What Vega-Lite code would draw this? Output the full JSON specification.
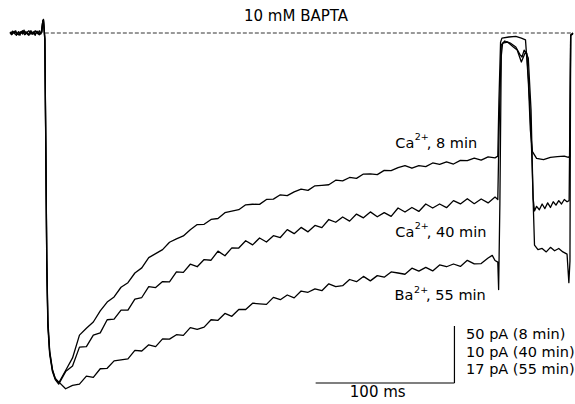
{
  "$schema": "https://vega.github.io/schema/vega-lite/v6.json",
  "width": 575,
  "height": 404,
  "autosize": {"type": "fit", "contains": "padding"},
  "padding": 0,
  "background": "white",
  "config": {"view": {"stroke": null}},
  "datasets": {
    "traces": [
      {"s":"8","t":-25.2,"i":0.5},{"s":"8","t":-24,"i":-1.5},{"s":"8","t":-23,"i":1.5},{"s":"8","t":-22,"i":-0.5},{"s":"8","t":-21,"i":2},{"s":"8","t":-20,"i":-1},{"s":"8","t":-19,"i":1},{"s":"8","t":-18,"i":-2},{"s":"8","t":-17,"i":1.5},{"s":"8","t":-16,"i":0},{"s":"8","t":-15,"i":2.5},{"s":"8","t":-14,"i":-1},{"s":"8","t":-13,"i":1},{"s":"8","t":-12,"i":-1.5},{"s":"8","t":-11,"i":0.5},{"s":"8","t":-10,"i":2},{"s":"8","t":-9,"i":-1},{"s":"8","t":-8,"i":1},{"s":"8","t":-7,"i":-2},{"s":"8","t":-6,"i":1.5},{"s":"8","t":-5,"i":-0.5},{"s":"8","t":-4,"i":2},{"s":"8","t":-3,"i":-1},{"s":"8","t":-2,"i":1},{"s":"8","t":-1.5,"i":11},{"s":"8","t":-1,"i":12},{"s":"8","t":-0.5,"i":4},{"s":"8","t":0,"i":-5},{"s":"8","t":0.7,"i":-100},{"s":"8","t":1.4,"i":-200},{"s":"8","t":2.2,"i":-255},{"s":"8","t":3.5,"i":-280},{"s":"8","t":5.5,"i":-296},{"s":"8","t":7.5,"i":-303},{"s":"8","t":10,"i":-307},
      {"s":"8","t":15,"i":-296},{"s":"8","t":20,"i":-285},{"s":"8","t":25,"i":-265},{"s":"8","t":30,"i":-259},{"s":"8","t":35,"i":-253.5},{"s":"8","t":40,"i":-243.7},{"s":"8","t":45,"i":-236},{"s":"8","t":50,"i":-231.5},{"s":"8","t":55,"i":-223},{"s":"8","t":60,"i":-219},{"s":"8","t":65,"i":-210.5},{"s":"8","t":70,"i":-206},{"s":"8","t":75,"i":-197},{"s":"8","t":80,"i":-193.5},{"s":"8","t":85,"i":-190},{"s":"8","t":90,"i":-183.5},{"s":"8","t":95,"i":-180.5},{"s":"8","t":100,"i":-178},{"s":"8","t":105,"i":-172.5},{"s":"8","t":110,"i":-168},{"s":"8","t":115,"i":-167.8},{"s":"8","t":120,"i":-163.5},{"s":"8","t":125,"i":-162.7},{"s":"8","t":130,"i":-157.6},{"s":"8","t":135,"i":-156.2},{"s":"8","t":140,"i":-155},{"s":"8","t":145,"i":-150.7},{"s":"8","t":150,"i":-150.2},{"s":"8","t":155,"i":-150.3},{"s":"8","t":160,"i":-146},{"s":"8","t":165,"i":-145.7},{"s":"8","t":170,"i":-141.9},{"s":"8","t":175,"i":-142.6},{"s":"8","t":180,"i":-139.3},{"s":"8","t":185,"i":-137},{"s":"8","t":190,"i":-138},{"s":"8","t":195,"i":-134},{"s":"8","t":200,"i":-133.6},{"s":"8","t":205,"i":-133.1},{"s":"8","t":210,"i":-129.1},{"s":"8","t":215,"i":-129.7},{"s":"8","t":220,"i":-126.7},{"s":"8","t":225,"i":-127.5},{"s":"8","t":230,"i":-123.7},{"s":"8","t":235,"i":-123.5},{"s":"8","t":240,"i":-124.2},{"s":"8","t":245,"i":-120.5},{"s":"8","t":250,"i":-120.7},{"s":"8","t":255,"i":-118},{"s":"8","t":260,"i":-116.3},{"s":"8","t":265,"i":-118.6},{"s":"8","t":270,"i":-116.4},{"s":"8","t":275,"i":-117.2},{"s":"8","t":280,"i":-114},{"s":"8","t":285,"i":-115.3},{"s":"8","t":290,"i":-113.1},{"s":"8","t":295,"i":-114.9},{"s":"8","t":300,"i":-111.7},{"s":"8","t":305,"i":-112},{"s":"8","t":310,"i":-109.7},{"s":"8","t":315,"i":-111.5},{"s":"8","t":320,"i":-108.7},{"s":"8","t":325,"i":-109.5},
      {"s":"8","t":327,"i":-108},{"s":"8","t":327.8,"i":-60},{"s":"8","t":329,"i":-8},{"s":"8","t":330,"i":-4.5},{"s":"8","t":335,"i":-3.5},{"s":"8","t":340,"i":-3},{"s":"8","t":344,"i":-4.5},{"s":"8","t":347,"i":-6},{"s":"8","t":349,"i":-41},{"s":"8","t":350.5,"i":-85},{"s":"8","t":352,"i":-104},{"s":"8","t":355,"i":-110},{"s":"8","t":360,"i":-111},{"s":"8","t":365,"i":-109},{"s":"8","t":370,"i":-108.5},{"s":"8","t":375,"i":-108},{"s":"8","t":378,"i":-109},{"s":"8","t":379,"i":-108},{"s":"8","t":379.6,"i":-2},{"s":"8","t":381.29,"i":-1},

      {"s":"40","t":-25,"i":-1},{"s":"40","t":-23.5,"i":1.5},{"s":"40","t":-22,"i":0},{"s":"40","t":-20.5,"i":-2},{"s":"40","t":-19,"i":1},{"s":"40","t":-17.5,"i":-0.5},{"s":"40","t":-16,"i":2},{"s":"40","t":-14.5,"i":-1.5},{"s":"40","t":-13,"i":0.5},{"s":"40","t":-11.5,"i":2},{"s":"40","t":-10,"i":-1},{"s":"40","t":-8.5,"i":1},{"s":"40","t":-7,"i":-1.5},{"s":"40","t":-5.5,"i":1.5},{"s":"40","t":-4,"i":-1},{"s":"40","t":-2.5,"i":1},{"s":"40","t":-1.5,"i":10},{"s":"40","t":-1,"i":11},{"s":"40","t":-0.5,"i":3},{"s":"40","t":0,"i":-6},{"s":"40","t":0.7,"i":-105},{"s":"40","t":1.4,"i":-205},{"s":"40","t":2.2,"i":-258},{"s":"40","t":3.5,"i":-282},{"s":"40","t":5.5,"i":-297},{"s":"40","t":7.5,"i":-304},{"s":"40","t":10,"i":-308},
      {"s":"40","t":15,"i":-297},{"s":"40","t":20,"i":-292},{"s":"40","t":25,"i":-275.5},{"s":"40","t":30,"i":-275},{"s":"40","t":35,"i":-265},{"s":"40","t":40,"i":-263},{"s":"40","t":45,"i":-251.5},{"s":"40","t":50,"i":-251},{"s":"40","t":55,"i":-243},{"s":"40","t":60,"i":-243},{"s":"40","t":65,"i":-233.5},{"s":"40","t":70,"i":-232},{"s":"40","t":75,"i":-222.4},{"s":"40","t":80,"i":-223.3},{"s":"40","t":85,"i":-218},{"s":"40","t":90,"i":-218.2},{"s":"40","t":95,"i":-209.5},{"s":"40","t":100,"i":-209.9},{"s":"40","t":105,"i":-202.8},{"s":"40","t":110,"i":-205},{"s":"40","t":115,"i":-198.7},{"s":"40","t":120,"i":-199.3},{"s":"40","t":125,"i":-191.3},{"s":"40","t":130,"i":-195.4},{"s":"40","t":135,"i":-188.5},{"s":"40","t":140,"i":-188.6},{"s":"40","t":145,"i":-182.2},{"s":"40","t":150,"i":-185.8},{"s":"40","t":155,"i":-179.8},{"s":"40","t":160,"i":-183.3},{"s":"40","t":165,"i":-177.8},{"s":"40","t":170,"i":-179.4},{"s":"40","t":175,"i":-172.5},{"s":"40","t":180,"i":-176},{"s":"40","t":185,"i":-170.5},{"s":"40","t":190,"i":-174.4},{"s":"40","t":195,"i":-168.8},{"s":"40","t":200,"i":-170.7},{"s":"40","t":205,"i":-163.6},{"s":"40","t":210,"i":-166},{"s":"40","t":215,"i":-161.4},{"s":"40","t":220,"i":-165},{"s":"40","t":225,"i":-158.8},{"s":"40","t":230,"i":-162.1},{"s":"40","t":235,"i":-156.9},{"s":"40","t":240,"i":-161.2},{"s":"40","t":245,"i":-157.5},{"s":"40","t":250,"i":-160.8},{"s":"40","t":255,"i":-153.5},{"s":"40","t":260,"i":-157},{"s":"40","t":265,"i":-153},{"s":"40","t":270,"i":-156.5},{"s":"40","t":275,"i":-150},{"s":"40","t":280,"i":-153.5},{"s":"40","t":285,"i":-150},{"s":"40","t":290,"i":-153.2},{"s":"40","t":295,"i":-147},{"s":"40","t":300,"i":-149.9},{"s":"40","t":305,"i":-145.3},{"s":"40","t":310,"i":-149.7},{"s":"40","t":315,"i":-145.6},{"s":"40","t":320,"i":-149},{"s":"40","t":325,"i":-143.9},
      {"s":"40","t":327,"i":-146},{"s":"40","t":328,"i":-80},{"s":"40","t":329.5,"i":-10.5},{"s":"40","t":332,"i":-7},{"s":"40","t":336,"i":-8.8},{"s":"40","t":340,"i":-12.3},{"s":"40","t":343,"i":-19},{"s":"40","t":344.5,"i":-21},{"s":"40","t":346,"i":-15},{"s":"40","t":348,"i":-18},{"s":"40","t":350,"i":-60},{"s":"40","t":351.5,"i":-105},{"s":"40","t":352.5,"i":-145},{"s":"40","t":353.5,"i":-156},{"s":"40","t":355,"i":-152},{"s":"40","t":357,"i":-155},{"s":"40","t":359,"i":-150},{"s":"40","t":361,"i":-154},{"s":"40","t":363,"i":-149},{"s":"40","t":365,"i":-153},{"s":"40","t":367,"i":-148},{"s":"40","t":369,"i":-151},{"s":"40","t":371,"i":-147},{"s":"40","t":373,"i":-150},{"s":"40","t":375,"i":-146},{"s":"40","t":377,"i":-148},{"s":"40","t":378.5,"i":-147},{"s":"40","t":379.6,"i":-2},{"s":"40","t":381.29,"i":0},

      {"s":"55","t":-25,"i":1},{"s":"55","t":-23.5,"i":-1},{"s":"55","t":-22,"i":1.5},{"s":"55","t":-20.5,"i":0},{"s":"55","t":-19,"i":-1.5},{"s":"55","t":-17.5,"i":1},{"s":"55","t":-16,"i":-1},{"s":"55","t":-14.5,"i":1.5},{"s":"55","t":-13,"i":-0.5},{"s":"55","t":-11.5,"i":-2},{"s":"55","t":-10,"i":1},{"s":"55","t":-8.5,"i":-1},{"s":"55","t":-7,"i":2},{"s":"55","t":-5.5,"i":0},{"s":"55","t":-4,"i":-1.5},{"s":"55","t":-2.5,"i":1.5},{"s":"55","t":-1.5,"i":10},{"s":"55","t":-1,"i":11.5},{"s":"55","t":-0.5,"i":3},{"s":"55","t":0,"i":-6},{"s":"55","t":0.7,"i":-98},{"s":"55","t":1.4,"i":-198},{"s":"55","t":2.2,"i":-252},{"s":"55","t":3.5,"i":-279},{"s":"55","t":5.5,"i":-295},{"s":"55","t":7.5,"i":-303},{"s":"55","t":10,"i":-306},
      {"s":"55","t":15,"i":-312},{"s":"55","t":20,"i":-309},{"s":"55","t":25,"i":-308},{"s":"55","t":30,"i":-301},{"s":"55","t":35,"i":-302},{"s":"55","t":40,"i":-294.5},{"s":"55","t":45,"i":-294.1},{"s":"55","t":50,"i":-287.6},{"s":"55","t":55,"i":-286.7},{"s":"55","t":60,"i":-285.8},{"s":"55","t":65,"i":-278.3},{"s":"55","t":70,"i":-278.9},{"s":"55","t":75,"i":-273.5},{"s":"55","t":80,"i":-275.1},{"s":"55","t":85,"i":-268.3},{"s":"55","t":90,"i":-268.5},{"s":"55","t":95,"i":-264.6},{"s":"55","t":100,"i":-265.2},{"s":"55","t":105,"i":-258.4},{"s":"55","t":110,"i":-260},{"s":"55","t":115,"i":-258},{"s":"55","t":120,"i":-251.5},{"s":"55","t":125,"i":-252},{"s":"55","t":130,"i":-246},{"s":"55","t":135,"i":-248.5},{"s":"55","t":140,"i":-242.5},{"s":"55","t":145,"i":-242.5},{"s":"55","t":150,"i":-237},{"s":"55","t":155,"i":-237.5},{"s":"55","t":160,"i":-238},{"s":"55","t":165,"i":-231.9},{"s":"55","t":170,"i":-233.9},{"s":"55","t":175,"i":-229.8},{"s":"55","t":180,"i":-232.3},{"s":"55","t":185,"i":-226.3},{"s":"55","t":190,"i":-227.4},{"s":"55","t":195,"i":-224.4},{"s":"55","t":200,"i":-226},{"s":"55","t":205,"i":-220},{"s":"55","t":210,"i":-222.5},{"s":"55","t":215,"i":-221.6},{"s":"55","t":220,"i":-216.2},{"s":"55","t":225,"i":-218.1},{"s":"55","t":230,"i":-213.5},{"s":"55","t":235,"i":-217.4},{"s":"55","t":240,"i":-212.8},{"s":"55","t":245,"i":-214.2},{"s":"55","t":250,"i":-209.6},{"s":"55","t":255,"i":-210.5},{"s":"55","t":260,"i":-211.6},{"s":"55","t":265,"i":-206.3},{"s":"55","t":270,"i":-208.9},{"s":"55","t":275,"i":-205.6},{"s":"55","t":280,"i":-208.7},{"s":"55","t":285,"i":-203.4},{"s":"55","t":290,"i":-205},{"s":"55","t":295,"i":-202.6},{"s":"55","t":300,"i":-204.7},{"s":"55","t":305,"i":-199.4},{"s":"55","t":310,"i":-202.5},{"s":"55","t":315,"i":-202.2},{"s":"55","t":320,"i":-197.3},{"s":"55","t":323,"i":-195},{"s":"55","t":325,"i":-199.5},
      {"s":"55","t":327,"i":-201},{"s":"55","t":327.6,"i":-225},{"s":"55","t":328.5,"i":-150},{"s":"55","t":329.5,"i":-20},{"s":"55","t":330.5,"i":-8.8},{"s":"55","t":334,"i":-7.9},{"s":"55","t":338,"i":-12},{"s":"55","t":341,"i":-14.9},{"s":"55","t":344,"i":-25.4},{"s":"55","t":347,"i":-16.7},{"s":"55","t":349,"i":-22},{"s":"55","t":351,"i":-67.5},{"s":"55","t":352.5,"i":-146.5},{"s":"55","t":353.5,"i":-186},{"s":"55","t":356,"i":-190},{"s":"55","t":359,"i":-189},{"s":"55","t":362,"i":-192},{"s":"55","t":365,"i":-188},{"s":"55","t":368,"i":-191},{"s":"55","t":371,"i":-189},{"s":"55","t":374,"i":-192},{"s":"55","t":377,"i":-194},{"s":"55","t":378.3,"i":-219},{"s":"55","t":379.1,"i":-200},{"s":"55","t":379.6,"i":-2},{"s":"55","t":381.29,"i":0}
    ],
    "bars": [
      {"t":195.5,"t2":295.7,"i":-307,"i2":-307},
      {"t":295.7,"t2":295.7,"i":-257,"i2":-307}
    ],
    "baseline": [{"t":0,"t2":381.29,"i":0}],
    "centerText": [
      {"t":181.3,"i":10.8,"label":"10 mM BAPTA"},
      {"t":240.3,"i":-319.5,"label":"100 ms"}
    ],
    "ions": [
      {"t":253,"i":-100.6,"base":"Ca","sup":"2+","rest":", 8 min"},
      {"t":253,"i":-178.6,"base":"Ca","sup":"2+","rest":", 40 min"},
      {"t":252.5,"i":-234.2,"base":"Ba","sup":"2+","rest":", 55 min"}
    ],
    "scaleText": [
      {"t":304.1,"i":-268.4,"label":"50 pA (8 min)"},
      {"t":304.1,"i":-283.9,"label":"10 pA (40 min)"},
      {"t":304.1,"i":-299.3,"label":"17 pA (55 min)"}
    ]
  },
  "layer": [
    {
      "data": {"name": "baseline"},
      "mark": {"type": "rule", "strokeDash": [4, 2], "strokeWidth": 1, "color": "#333"},
      "encoding": {
        "x": {"field": "t", "type": "quantitative", "scale": {"domain": [-32.37, 381.29], "nice": false, "zero": false}, "axis": null},
        "x2": {"field": "t2"},
        "y": {"field": "i", "type": "quantitative", "scale": {"domain": [-325.4, 28.95], "nice": false, "zero": false}, "axis": null}
      }
    },
    {
      "data": {"name": "traces"},
      "mark": {"type": "line", "strokeWidth": 1.3, "color": "black", "strokeJoin": "round"},
      "encoding": {
        "x": {"field": "t", "type": "quantitative", "scale": {"domain": [-32.37, 381.29], "nice": false, "zero": false}, "axis": null},
        "y": {"field": "i", "type": "quantitative", "scale": {"domain": [-325.4, 28.95], "nice": false, "zero": false}, "axis": null},
        "detail": {"field": "s", "type": "nominal"}
      }
    },
    {
      "data": {"name": "bars"},
      "mark": {"type": "rule", "strokeWidth": 1.2, "color": "black"},
      "encoding": {
        "x": {"field": "t", "type": "quantitative", "scale": {"domain": [-32.37, 381.29], "nice": false, "zero": false}, "axis": null},
        "x2": {"field": "t2"},
        "y": {"field": "i", "type": "quantitative", "scale": {"domain": [-325.4, 28.95], "nice": false, "zero": false}, "axis": null},
        "y2": {"field": "i2"}
      }
    },
    {
      "data": {"name": "centerText"},
      "mark": {"type": "text", "align": "center", "baseline": "alphabetic", "font": "DejaVu Sans", "fontSize": 15, "color": "black"},
      "encoding": {
        "x": {"field": "t", "type": "quantitative", "scale": {"domain": [-32.37, 381.29], "nice": false, "zero": false}, "axis": null},
        "y": {"field": "i", "type": "quantitative", "scale": {"domain": [-325.4, 28.95], "nice": false, "zero": false}, "axis": null},
        "text": {"field": "label", "type": "nominal"}
      }
    },
    {
      "data": {"name": "ions"},
      "mark": {"type": "text", "align": "left", "baseline": "alphabetic", "font": "DejaVu Sans", "fontSize": 14.5, "color": "black"},
      "encoding": {
        "x": {"field": "t", "type": "quantitative", "scale": {"domain": [-32.37, 381.29], "nice": false, "zero": false}, "axis": null},
        "y": {"field": "i", "type": "quantitative", "scale": {"domain": [-325.4, 28.95], "nice": false, "zero": false}, "axis": null},
        "text": {"field": "base", "type": "nominal"}
      }
    },
    {
      "data": {"name": "ions"},
      "mark": {"type": "text", "align": "left", "baseline": "alphabetic", "font": "DejaVu Sans", "fontSize": 9.5, "dx": 19.5, "dy": -7.5, "color": "black"},
      "encoding": {
        "x": {"field": "t", "type": "quantitative", "scale": {"domain": [-32.37, 381.29], "nice": false, "zero": false}, "axis": null},
        "y": {"field": "i", "type": "quantitative", "scale": {"domain": [-325.4, 28.95], "nice": false, "zero": false}, "axis": null},
        "text": {"field": "sup", "type": "nominal"}
      }
    },
    {
      "data": {"name": "ions"},
      "mark": {"type": "text", "align": "left", "baseline": "alphabetic", "font": "DejaVu Sans", "fontSize": 14.5, "dx": 31.5, "color": "black"},
      "encoding": {
        "x": {"field": "t", "type": "quantitative", "scale": {"domain": [-32.37, 381.29], "nice": false, "zero": false}, "axis": null},
        "y": {"field": "i", "type": "quantitative", "scale": {"domain": [-325.4, 28.95], "nice": false, "zero": false}, "axis": null},
        "text": {"field": "rest", "type": "nominal"}
      }
    },
    {
      "data": {"name": "scaleText"},
      "mark": {"type": "text", "align": "left", "baseline": "alphabetic", "font": "DejaVu Sans", "fontSize": 14.5, "color": "black"},
      "encoding": {
        "x": {"field": "t", "type": "quantitative", "scale": {"domain": [-32.37, 381.29], "nice": false, "zero": false}, "axis": null},
        "y": {"field": "i", "type": "quantitative", "scale": {"domain": [-325.4, 28.95], "nice": false, "zero": false}, "axis": null},
        "text": {"field": "label", "type": "nominal"}
      }
    }
  ]
}
